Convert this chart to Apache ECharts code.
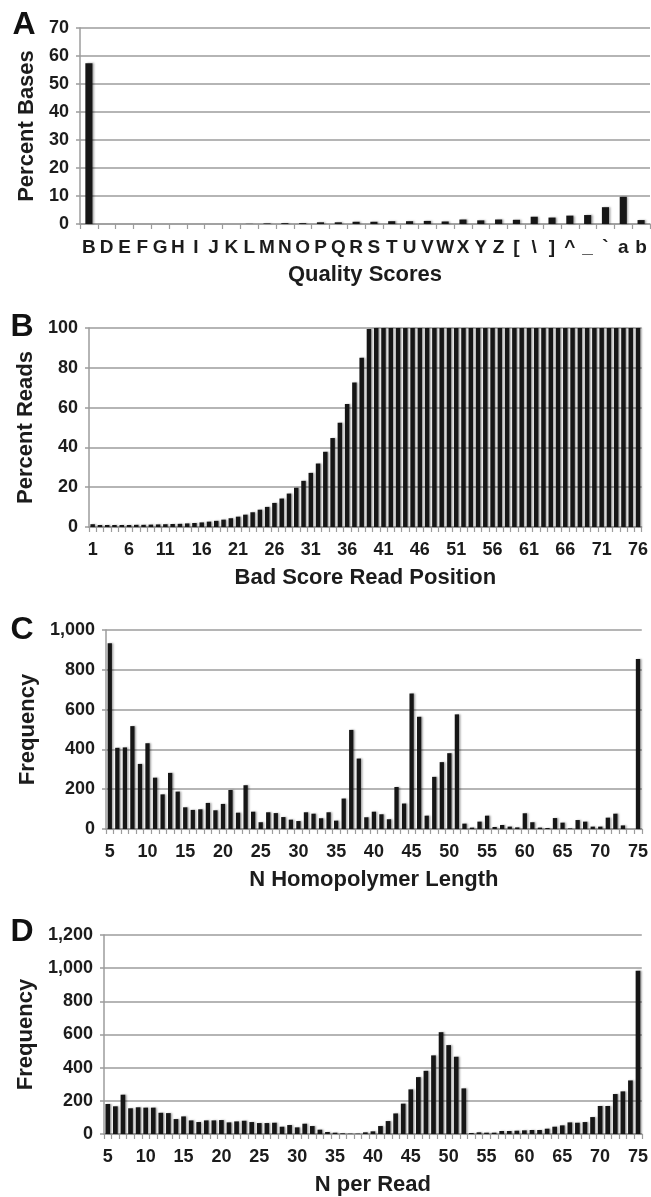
<!DOCTYPE html>
<html>
<head>
<meta charset="utf-8">
<script src="https://cdn.jsdelivr.net/npm/echarts@6/dist/echarts.min.js"></script>
<style>
html,body{margin:0;padding:0;background:#fff;}
#chart{width:651px;height:1197px;}
</style>
</head>
<body>
<div id="chart"></div>
<script>
// ---- Panel A: Quality score distribution ----
const qualityScores = ['B','D','E','F','G','H','I','J','K','L','M','N','O','P','Q','R','S','T','U','V','W','X','Y','Z','[','\\',']','^','_','`','a','b'];
const percentBases = [57.4,0,0,0,0,0,0,0,0,0.05,0.2,0.3,0.3,0.6,0.6,0.8,0.8,1.0,1.0,1.1,0.9,1.6,1.3,1.6,1.5,2.6,2.3,3.0,3.2,6.0,9.7,1.4];

// ---- Panel B: Bad score read position ----
const readPositions = [1,2,3,4,5,6,7,8,9,10,11,12,13,14,15,16,17,18,19,20,21,22,23,24,25,26,27,28,29,30,31,32,33,34,35,36,37,38,39,40,41,42,43,44,45,46,47,48,49,50,51,52,53,54,55,56,57,58,59,60,61,62,63,64,65,66,67,68,69,70,71,72,73,74,75,76];
const percentReads = [1.4,1.0,1.0,1.0,1.0,1.0,1.1,1.1,1.2,1.3,1.4,1.5,1.6,1.8,2.0,2.3,2.7,3.1,3.7,4.4,5.2,6.2,7.4,8.7,10.1,12.1,14.3,16.8,19.7,23.2,27.2,31.9,37.8,44.7,52.4,61.8,72.6,85.0,99.5,
  100,100,100,100,100,100,100,100,100,100,100,100,100,100,100,100,100,100,100,100,100,100,100,100,100,100,100,100,100,100,100,100,100,100,100,100,100];

// ---- Panels C and D: lengths 5..75 ----
const nLengths = [5,6,7,8,9,10,11,12,13,14,15,16,17,18,19,20,21,22,23,24,25,26,27,28,29,30,31,32,33,34,35,36,37,38,39,40,41,42,43,44,45,46,47,48,49,50,51,52,53,54,55,56,57,58,59,60,61,62,63,64,65,66,67,68,69,70,71,72,73,74,75];
const homopolymerFreq = [933,408,410,517,327,431,258,174,282,188,
  109,96,99,131,94,126,196,82,220,87,
  34,84,80,60,47,40,84,77,54,84,
  42,153,498,354,59,87,74,49,211,128,
  681,564,67,262,336,381,576,27,7,37,
  67,10,20,12,8,79,34,7,5,55,
  32,3,45,37,12,12,57,77,18,0,
  854];
const nPerReadFreq = [181,167,237,155,161,159,159,128,126,90,
  106,82,72,82,82,84,70,76,80,72,
  66,66,68,44,54,40,62,48,26,12,
  8,4,2,2,10,16,48,78,124,183,
  269,343,381,474,614,536,466,275,6,10,
  8,8,18,18,20,22,24,24,32,44,
  52,70,68,72,102,169,169,241,257,323,
  985];

// ---- text ----
const panelLetters = ['A','B','C','D'];
const xTitles = ['Quality Scores','Bad Score Read Position','N Homopolymer Length','N per Read'];
const yTitles = ['Percent Bases','Percent Reads','Frequency','Frequency'];

const FONT = '"Liberation Sans", Arial, Helvetica, sans-serif';
const TEXT = '#1c1c1c';
const GRID = '#9c9c9c';
const BAR = '#161616';

function fmt(v){ return String(v).replace(/\B(?=(\d{3})+(?!\d))/g, ','); }

const grids = [
  {left:80, top:28, width:570, height:196},
  {left:89, top:328, width:554, height:199},
  {left:106, top:630, width:537, height:199},
  {left:104, top:935, width:538, height:199}
];
const yRanges = [[0,70,10],[0,100,20],[0,1000,200],[0,1200,200]];
const xCats = [qualityScores, readPositions, nLengths, nLengths];
const labelIntervals = [0,4,4,4];
const xLabelSizes = [19,18,18,18];
const yNameGaps = [41,50,67,65];
const barGaps = ['60%','38%','43%','38%'];
const seriesData = [percentBases, percentReads, homopolymerFreq, nPerReadFreq];

const xAxis = [], yAxis = [], series = [], graphic = [];
for (let i = 0; i < 4; i++) {
  xAxis.push({
    type:'category', gridIndex:i, data:xCats[i], boundaryGap:true,
    name:xTitles[i], nameLocation:'middle', nameGap:40,
    nameTextStyle:{fontFamily:FONT, fontWeight:'bold', fontSize:22, color:TEXT},
    axisLine:{show:true, lineStyle:{color:GRID, width:1.5}},
    axisTick:{show:true, interval:0, length:5, lineStyle:{color:GRID, width:1.2}},
    axisLabel:{interval:labelIntervals[i], margin:14, fontFamily:FONT, fontWeight:'bold', fontSize:xLabelSizes[i], color:TEXT},
    splitLine:{show:false}
  });
  yAxis.push({
    type:'value', gridIndex:i, min:yRanges[i][0], max:yRanges[i][1], interval:yRanges[i][2],
    name:yTitles[i], nameLocation:'middle', nameGap:yNameGaps[i], nameRotate:90,
    nameTextStyle:{fontFamily:FONT, fontWeight:'bold', fontSize:22, color:TEXT},
    axisLine:{show:true, lineStyle:{color:GRID, width:1.5}},
    axisTick:{show:true, length:4, lineStyle:{color:GRID, width:1.5}},
    axisLabel:{margin:11, fontFamily:FONT, fontWeight:'bold', fontSize:18, color:TEXT, formatter:fmt},
    splitLine:{show:true, lineStyle:{color:GRID, width:1.5}}
  });
  series.push({
    type:'bar', xAxisIndex:i, yAxisIndex:i, data:seriesData[i],
    barCategoryGap:barGaps[i], animation:false,
    itemStyle:{color:BAR, shadowColor:'rgba(0,0,0,0.35)', shadowBlur:2, shadowOffsetX:1.5}
  });
}
const letterPos = [[24,25],[22,327],[22,630],[22,932]];
for (let i = 0; i < 4; i++) {
  graphic.push({
    type:'text', x:letterPos[i][0], y:letterPos[i][1],
    style:{text:panelLetters[i], fontFamily:FONT, fontWeight:'bold', fontSize:32, fill:'#111', align:'center', verticalAlign:'middle'}
  });
}

const chart = echarts.init(document.getElementById('chart'), null, {renderer:'canvas'});
chart.setOption({
  backgroundColor:'#ffffff',
  animation:false,
  grid:grids, xAxis:xAxis, yAxis:yAxis, series:series, graphic:graphic
});
</script>
</body>
</html>
